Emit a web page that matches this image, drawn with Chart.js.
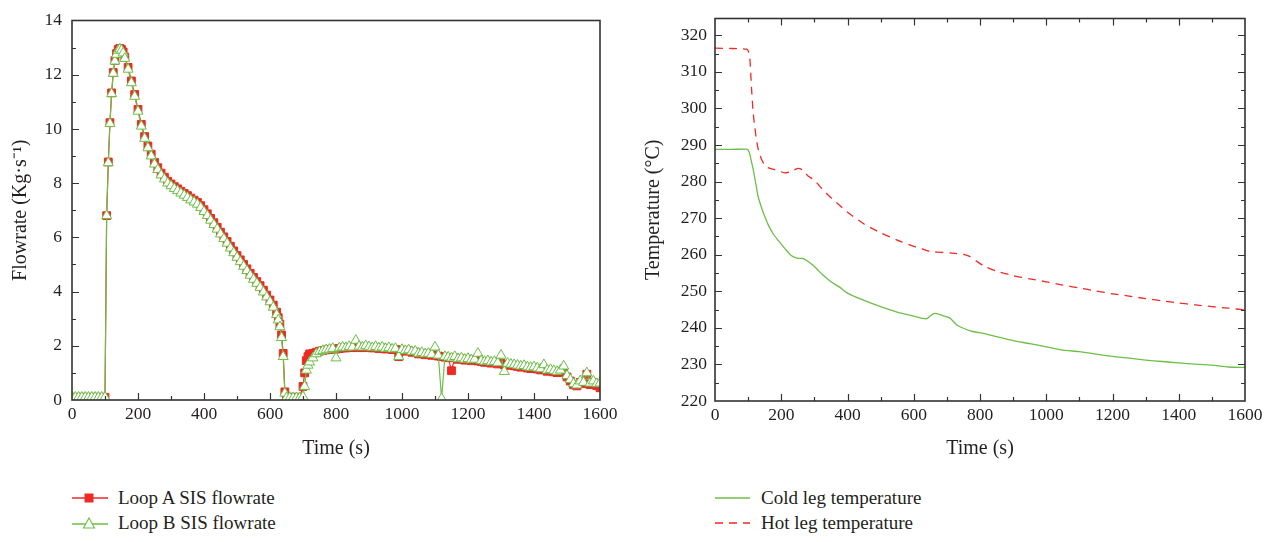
<!DOCTYPE html>
<html>
<head>
<meta charset="utf-8">
<title>SIS flowrate and loop temperatures</title>
<script src="https://cdn.jsdelivr.net/npm/chart.js"></script>
<style>
    body {
        margin: 0;
        background: #fff;
        font-family: "Liberation Serif", serif;
        color: #231f20;
    }
    #wrap { position: relative; width: 1277px; height: 542px; }
    .box { position: absolute; top: 0; height: 470px; }
    #leftBox { left: 0; width: 640px; }
    #rightBox { left: 640px; width: 637px; }
    .legend { position: absolute; top: 0; font-size: 19px; }
    .legend .row { position: absolute; left: 0; height: 26px; white-space: nowrap; display: flex; align-items: center; }
    .legend svg { margin-right: 10px; }
</style>
</head>
<body>
<div id="wrap">
    <div class="box" id="leftBox"><canvas id="flowChart"></canvas></div>
    <div class="box" id="rightBox"><canvas id="tempChart"></canvas></div>

    <div class="legend" style="left:72px">
        <div class="row" style="top:485px">
            <svg width="36" height="16"><line x1="0" y1="8" x2="36" y2="8" stroke="#ee2a24" stroke-width="1.3"/><rect x="12.5" y="3.5" width="9" height="9" fill="#ee2a24"/></svg>
            Loop A SIS flowrate
        </div>
        <div class="row" style="top:510px">
            <svg width="36" height="16"><line x1="0" y1="9" x2="36" y2="9" stroke="#6cbf47" stroke-width="1.3"/><polygon points="17,3 22.5,13 11.5,13" fill="#fff" stroke="#6cbf47" stroke-width="1.1"/></svg>
            Loop B SIS flowrate
        </div>
    </div>
    <div class="legend" style="left:715px">
        <div class="row" style="top:485px">
            <svg width="36" height="16"><line x1="0" y1="8" x2="35" y2="8" stroke="#6cbf47" stroke-width="1.3"/></svg>
            Cold leg temperature
        </div>
        <div class="row" style="top:510px">
            <svg width="36" height="16"><line x1="0" y1="8" x2="35" y2="8" stroke="#ee2a24" stroke-width="1.3" stroke-dasharray="8 6"/></svg>
            Hot leg temperature
        </div>
    </div>
</div>

<script>
    // ---- data ----
    var timeTicks = [0, 200, 400, 600, 800, 1000, 1200, 1400, 1600];
    var flowTicks = [0, 2, 4, 6, 8, 10, 12, 14];
    var tempTicks = [220, 230, 240, 250, 260, 270, 280, 290, 300, 310, 320];

    var flowTime = [
        0, 10, 20, 30, 40, 50, 60, 70, 80, 90, 100,
        105, 110, 115, 120, 125, 130, 135, 140, 145, 150, 155, 160,
        170, 180, 190, 200, 210, 220, 230, 240, 250, 260,
        270, 280, 290, 300, 310, 320, 330, 340, 350, 360,
        370, 380, 390, 400, 410, 420, 430, 440, 450, 460,
        470, 480, 490, 500, 510, 520, 530, 540, 550, 560,
        570, 580, 590, 600, 610, 620,
        625, 630, 635, 640, 645, 650,
        660, 670, 680, 690, 700,
        705, 710, 715, 720,
        730, 740, 750, 760, 770, 780, 790, 800, 810, 820,
        830, 840, 850, 860, 870, 880, 890, 900, 910, 920,
        930, 940, 950, 960, 970, 980, 990, 1000, 1010, 1020,
        1030, 1040, 1050, 1060, 1070, 1080, 1090, 1100, 1110, 1120,
        1130, 1140, 1150, 1160, 1170, 1180, 1190, 1200, 1210, 1220,
        1230, 1240, 1250, 1260, 1270, 1280, 1290, 1300, 1310, 1320,
        1330, 1340, 1350, 1360, 1370, 1380, 1390, 1400, 1410, 1420,
        1430, 1440, 1450, 1460, 1470, 1480, 1490, 1500, 1510, 1520,
        1530, 1540, 1550, 1560, 1570, 1580, 1590, 1600
    ];

    var loopA = [
        0.1, 0.1, 0.1, 0.1, 0.1, 0.1, 0.1, 0.1, 0.1, 0.1, 0.1,
        6.8, 8.78, 10.23, 11.33, 12.08, 12.53, 12.78, 12.93, 12.97, 12.93, 12.84, 12.65,
        12.27, 11.77, 11.27, 10.72, 10.17, 9.72, 9.37, 9.07, 8.77, 8.57,
        8.37, 8.22, 8.07, 7.97, 7.87, 7.79, 7.7, 7.62, 7.54, 7.45,
        7.37, 7.29, 7.17, 7.02, 6.87, 6.7, 6.54, 6.37, 6.19, 6.02,
        5.85, 5.67, 5.5, 5.33, 5.17, 5.0, 4.84, 4.67, 4.52, 4.37,
        4.22, 4.05, 3.87, 3.69, 3.5, 3.24,
        3.04, 2.8, 2.4, 1.72, 0.3, 0.1,
        0.1, 0.1, 0.1, 0.1, 0.5,
        1.0, 1.45, 1.6, 1.7,
        1.72, 1.76, 1.8, 1.83, 1.85, 1.86, 1.88, 1.88, 1.9, 1.92,
        1.92, 1.94, 1.93, 1.95, 1.94, 1.93, 1.95, 1.94, 1.92, 1.93,
        1.9, 1.92, 1.88, 1.9, 1.86, 1.87, 1.6, 1.84, 1.8, 1.82,
        1.76, 1.77, 1.7, 1.72, 1.67, 1.69, 1.65, 1.66, 1.62, 1.6,
        1.58, 1.56, 1.08, 1.56, 1.5, 1.52, 1.47, 1.5, 1.45, 1.47,
        1.44, 1.42, 1.39, 1.41, 1.36, 1.38, 1.33, 1.35, 1.3, 1.31,
        1.28, 1.26, 1.24, 1.21, 1.23, 1.18, 1.16, 1.18, 1.14, 1.11,
        1.13, 1.06, 1.08, 1.04, 1.01, 1.05, 1.02, 0.85, 0.7, 0.56,
        0.52, 0.65, 0.6, 0.95, 0.57, 0.65, 0.53, 0.45
    ];

    var loopB = [
        0.1, 0.1, 0.1, 0.1, 0.1, 0.1, 0.1, 0.1, 0.1, 0.1, 0.1,
        6.8, 8.75, 10.2, 11.3, 12.05, 12.5, 12.75, 12.9, 12.95, 12.9, 12.8, 12.6,
        12.2, 11.7, 11.2, 10.65, 10.1, 9.65, 9.3, 9.0, 8.7, 8.5,
        8.3, 8.15, 8.0, 7.9, 7.8, 7.72, 7.63, 7.55, 7.47, 7.38,
        7.3, 7.22, 7.1, 6.95, 6.8, 6.63, 6.47, 6.3, 6.12, 5.95,
        5.78, 5.6, 5.43, 5.26, 5.1, 4.93, 4.77, 4.6, 4.45, 4.3,
        4.15, 3.98, 3.8, 3.62, 3.42, 3.15,
        2.95, 2.7, 2.3, 1.6, 0.25, 0.08,
        0.08, 0.08, 0.08, 0.08, 0.12,
        0.5, 1.1, 1.28, 1.4,
        1.55, 1.7, 1.78, 1.82, 1.85, 1.87, 1.9, 1.55, 1.92, 1.95,
        1.93, 1.97, 1.95, 2.2, 1.98, 1.95, 2.0, 1.96, 1.93, 1.97,
        1.92, 1.95, 1.9, 1.93, 1.88, 1.9, 1.6, 1.86, 1.82, 1.85,
        1.78, 1.8, 1.72, 1.75, 1.7, 1.72, 1.68, 1.95, 1.65, 0.05,
        1.6, 1.58, 1.55, 1.6, 1.52, 1.55, 1.5, 1.53, 1.48, 1.5,
        1.72, 1.45, 1.42, 1.45, 1.4, 1.42, 1.37, 1.65, 1.05, 1.35,
        1.32, 1.3, 1.28, 1.25, 1.27, 1.22, 1.2, 1.22, 1.18, 1.15,
        1.3, 1.1, 1.12, 1.08, 1.05, 1.1, 1.25, 0.9, 0.75, 0.6,
        0.55, 0.7, 0.65, 1.0, 0.62, 0.7, 0.6, 0.62
    ];

    var tempTime = [
        0, 50, 95, 100, 105, 110, 115, 120, 125, 130, 140, 150, 160, 175, 190,
        210, 230, 250, 265, 280, 300, 325, 350, 375, 400, 450, 500, 550, 600,
        625, 640, 650, 660, 670, 690, 710, 730, 750, 770, 790, 810, 850, 900,
        950, 1000, 1050, 1100, 1150, 1200, 1250, 1300, 1350, 1400, 1450, 1500, 1550, 1600
    ];

    var coldLeg = [
        288.8, 288.8, 288.9, 288.7, 287.5, 285.5, 283.5, 281, 278.5, 276, 273, 270.5, 268.3, 265.8, 264,
        261.8, 259.8, 259, 259, 258.2, 256.8, 254.5, 252.6, 251.2, 249.5, 247.5, 245.8, 244.3, 243.2,
        242.6, 242.5, 243.3, 243.9, 243.9, 243.3, 242.6, 240.8, 239.9, 239.2, 238.8, 238.5, 237.6, 236.5,
        235.7, 234.8, 233.9, 233.5, 232.8, 232.2, 231.7, 231.2, 230.8, 230.4, 230.1, 229.8, 229.3, 229.2
    ];

    var hotLeg = [
        316.5, 316.4, 316.2, 315.8, 314, 306, 299, 295, 291.6, 289, 286.2, 284.5, 283.8, 283.4, 283,
        282.4, 282.8, 283.6, 283.2, 281.6, 280.4, 277.8, 275.6, 273.6, 271.6, 268.4, 266, 264, 262.3,
        261.6, 261.1, 260.9, 260.8, 260.7, 260.6, 260.5, 260.3, 260.1, 259.5, 258.2, 257, 255.5, 254.3,
        253.4, 252.6, 251.7, 250.9, 250.1, 249.3, 248.7, 248, 247.4, 246.8, 246.3, 245.8, 245.4, 244.9
    ];

    var RED = "#ee2a24";
    var GREEN = "#6cbf47";
    var INK = "#231f20";

    // inward tick marks + frame, drawn from the chart's own scales
    var boxTicks = {
        id: "boxTicks",
        afterDraw: function(chart, args, opts) {
            var ctx = chart.ctx, a = chart.chartArea;
            var x = chart.scales.x, y = chart.scales.y;
            ctx.save();
            ctx.strokeStyle = "#333";
            ctx.lineWidth = 1.2;
            ctx.beginPath();
            for (var v = x.min + opts.xMinor; v < x.max; v += opts.xMinor) {
                var px = Math.round(x.getPixelForValue(v)) + 0.5;
                var len = (v % opts.xMajor === 0) ? 7 : 4;
                ctx.moveTo(px, a.bottom); ctx.lineTo(px, a.bottom - len);
                if (opts.mirror) { ctx.moveTo(px, a.top); ctx.lineTo(px, a.top + len); }
            }
            for (var w = y.min + opts.yMinor; w < y.max; w += opts.yMinor) {
                var py = Math.round(y.getPixelForValue(w)) + 0.5;
                var l2 = ((w - y.min) % opts.yMajor === 0) ? 7 : 4;
                ctx.moveTo(a.left, py); ctx.lineTo(a.left + l2, py);
                if (opts.mirror) { ctx.moveTo(a.right, py); ctx.lineTo(a.right - l2, py); }
            }
            ctx.stroke();
            ctx.lineWidth = 1.6;
            ctx.strokeRect(a.left, a.top, a.right - a.left, a.bottom - a.top);
            ctx.restore();
        }
    };

    function toPoints(times, vals) {
        return times.map(function(t, i) { return { x: t, y: vals[i] }; });
    }

    function plain(v) { return String(v); }

    function axes(opt) {
        var tickFont = { family: "'Liberation Serif', serif", size: 17.5 };
        var titleFont = { family: "'Liberation Serif', serif", size: 20 };
        return {
            x: {
                type: "linear", min: 0, max: 1600,
                grid: { display: false, drawTicks: false },
                border: { display: false },
                ticks: { padding: 4, color: INK, font: tickFont, maxRotation: 0, autoSkip: false, callback: plain },
                afterBuildTicks: function(s) { s.ticks = timeTicks.map(function(v) { return { value: v }; }); },
                title: { display: true, text: "Time (s)", color: INK, font: titleFont, padding: { top: 0, bottom: 9 } },
                afterFit: function(s) { s.height = opt.xHeight; }
            },
            y: {
                type: "linear", min: opt.yMin, max: opt.yMax,
                grid: { display: false, drawTicks: false },
                border: { display: false },
                ticks: { padding: opt.yPad, color: INK, font: tickFont, autoSkip: false, callback: plain },
                afterBuildTicks: function(s) { s.ticks = opt.yTicks.map(function(v) { return { value: v }; }); },
                title: { display: true, text: opt.yTitle, color: INK, font: titleFont, padding: { top: opt.yTitlePad, bottom: 0 } },
                afterFit: function(s) { s.width = opt.yWidth; }
            }
        };
    }

    new Chart(document.getElementById("flowChart"), {
        type: "line",
        data: {
            datasets: [{
                label: "Loop A SIS flowrate",
                data: toPoints(flowTime, loopA),
                borderColor: RED,
                backgroundColor: RED,
                borderWidth: 1.2,
                pointStyle: "rect",
                pointRadius: 5.5,
                pointBorderWidth: 1,
                order: 2
            }, {
                label: "Loop B SIS flowrate",
                data: toPoints(flowTime, loopB),
                borderColor: GREEN,
                backgroundColor: "#fff",
                borderWidth: 1.2,
                pointStyle: "triangle",
                pointRadius: 5.8,
                pointBorderWidth: 1,
                order: 1
            }]
        },
        options: {
            responsive: true,
            maintainAspectRatio: false,
            animation: false,
            layout: { padding: { top: 15, right: 40, left: 0, bottom: 0 } },
            scales: axes({ yMin: 0, yMax: 14, yTicks: flowTicks, yPad: 10, yTitle: "Flowrate (Kg·s⁻¹)", yTitlePad: 9, yWidth: 72, xHeight: 70 }),
            plugins: {
                legend: { display: false },
                tooltip: { enabled: false },
                boxTicks: { xMajor: 200, xMinor: 100, yMajor: 2, yMinor: 1, mirror: false }
            }
        },
        plugins: [boxTicks]
    });

    new Chart(document.getElementById("tempChart"), {
        type: "line",
        data: {
            datasets: [{
                label: "Cold leg temperature",
                data: toPoints(tempTime, coldLeg),
                borderColor: GREEN,
                borderWidth: 1.3,
                pointRadius: 0,
                tension: 0.2
            }, {
                label: "Hot leg temperature",
                data: toPoints(tempTime, hotLeg),
                borderColor: RED,
                borderWidth: 1.3,
                borderDash: [8, 6],
                pointRadius: 0,
                tension: 0.2
            }]
        },
        options: {
            responsive: true,
            maintainAspectRatio: false,
            animation: false,
            layout: { padding: { top: 15, right: 32, left: 0, bottom: 0 } },
            scales: axes({ yMin: 220, yMax: 324.6, yTicks: tempTicks, yPad: 8, yTitle: "Temperature (°C)", yTitlePad: 2, yWidth: 75, xHeight: 69 }),
            plugins: {
                legend: { display: false },
                tooltip: { enabled: false },
                boxTicks: { xMajor: 200, xMinor: 100, yMajor: 10, yMinor: 5, mirror: true }
            }
        },
        plugins: [boxTicks]
    });
</script>
</body>
</html>
